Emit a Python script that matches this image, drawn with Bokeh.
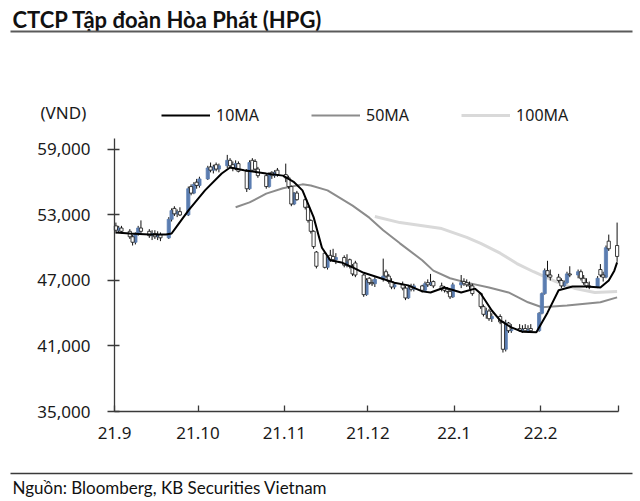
import pandas as pd
from bokeh.plotting import figure
from bokeh.models import (Range1d, FixedTicker, NumeralTickFormatter, Label, Legend,
                          LegendItem, BoxAnnotation, ColumnDataSource, LinearAxis)
from bokeh.embed import file_html
from bokeh.resources import INLINE

# ---------------- data ----------------
trade_dates = pd.bdate_range("2021-09-01", "2022-02-28")

opens = [
    52000, 51600, 51800, 51500, 51000, 50500, 51300, 51800, 51500, 51100, 51300, 51000, 51200,
    50900, 52600, 53600, 53100, 53300, 53000, 55600, 55000, 56000,
    55700, 56300, 57400, 57100, 57600, 57200, 57500, 58000, 57600, 57300, 57700, 57000, 55400,
    58000, 57900, 57200, 56600, 55600, 56900, 56600, 57100,
    56700, 56400, 55600, 54000, 55000, 54400, 53700, 52500, 51500, 49600, 49500, 48200, 49300,
    49200, 48900, 49100, 48400, 48900, 48300, 48600, 47500, 45700,
    47200, 46800, 46700, 47100, 47800, 47400, 46900, 46400, 46600, 46300, 45400, 46400, 46200,
    46500, 46100, 46800, 46600, 46900, 46500, 46300, 46200, 46000, 45500,
    46600, 46900, 46800, 46600, 46500, 45800, 44600, 43900, 44200, 43500, 43700, 43200, 40700,
    43100, 42400, 42600, 42400, 42600, 42400, 42600, 42400,
    44000, 45800, 47900, 47500, 47300, 47000, 46500, 46800, 47600, 47500, 47800, 47200, 46800,
    46500, 46400, 48000, 47500, 47300, 50600, 50200,
]
highs = [
    52300, 52000, 52000, 51700, 51200, 51400, 52000, 52500, 51700, 51600, 51600, 51500, 51400,
    52800, 53600, 53800, 53500, 53700, 55600, 55800, 56000, 56300,
    56500, 57500, 57800, 57600, 57800, 57700, 58500, 58200, 57900, 58000, 57900, 57200, 58000,
    58200, 58100, 57400, 56800, 56900, 57000, 57100, 57300,
    57700, 56600, 55700, 55100, 55200, 54600, 53800, 52600, 51600, 49700, 49600, 49300, 49800,
    49900, 49500, 49300, 49400, 49000, 48500, 48800, 47600, 47200,
    47300, 47100, 47300, 49000, 48000, 47600, 47200, 46800, 46900, 46500, 46500, 46700, 46700,
    46600, 46900, 47100, 47600, 47000, 46800, 46500, 46400, 46200, 46800,
    47500, 47200, 47100, 46900, 46700, 45900, 44800, 44500, 44400, 44000, 43900, 43300, 43400,
    43200, 43000, 43000, 42900, 43000, 42900, 43000, 44100,
    45900, 48100, 48800, 48000, 47600, 47200, 47000, 47800, 48300, 48000, 48000, 47500, 47200,
    46900, 47400, 48500, 47800, 50200, 51200, 52300,
]
lows = [
    51300, 51400, 51300, 50800, 50200, 50300, 51100, 51300, 50900, 50700, 50800, 50700, 50600,
    50800, 52400, 52900, 52800, 52900, 52900, 54800, 54900, 55400,
    55500, 56200, 56900, 56800, 57000, 56900, 57300, 57300, 57000, 57100, 56900, 55100, 55300,
    57000, 57000, 56400, 55400, 55500, 56300, 56400, 56500,
    56000, 55400, 53800, 53900, 54300, 53500, 52300, 51300, 49900, 48100, 48100, 48000, 48700,
    48700, 48500, 48200, 48200, 48100, 47400, 47300, 45500, 45600,
    46600, 46500, 46400, 46900, 47200, 46700, 46200, 46200, 46100, 45200, 45300, 46000, 46000,
    45900, 46000, 46400, 46500, 46300, 46000, 45900, 45800, 45300, 45400,
    46300, 46500, 46400, 46200, 45600, 44400, 43700, 43500, 43300, 43200, 43000, 40400, 40500,
    42200, 42200, 42300, 42200, 42300, 42200, 42300, 42300,
    43900, 45700, 47300, 47000, 46800, 46300, 46400, 46700, 47300, 47200, 47000, 46600, 46300,
    46200, 46300, 47300, 46900, 47200, 49700, 48700,
]
closes = [
    51600, 51800, 51500, 51000, 50500, 51300, 51800, 51500, 51100, 51300, 51000, 51200, 50900,
    52600, 53400, 53100, 53300, 53000, 55400, 55000, 55800, 55700,
    56300, 57300, 57100, 57400, 57200, 57500, 58000, 57500, 57300, 57700, 57000, 55400, 57800,
    57100, 57200, 56600, 55600, 56700, 56600, 56900, 56700,
    56400, 55600, 54000, 55000, 54400, 53700, 52500, 51500, 50100, 48300, 48200, 49100, 48900,
    48900, 49100, 48400, 48700, 48300, 47600, 47500, 45700, 47000,
    46800, 46700, 47100, 47400, 47400, 46900, 46400, 46600, 46300, 45400, 46300, 46200, 46500,
    46100, 46700, 46600, 46800, 46500, 46200, 46100, 46000, 45500, 46600,
    46800, 46700, 46600, 46500, 45800, 44600, 43900, 44200, 43500, 43700, 43200, 40700, 43100,
    42400, 42500, 42400, 42500, 42400, 42500, 42400, 44000,
    45800, 47900, 47500, 47300, 47000, 46500, 46800, 47600, 47500, 47800, 47200, 46800, 46500,
    46400, 47200, 47500, 47300, 50000, 49900, 49200,
]

ma10_dates = ["2021-09-01", "2021-09-06", "2021-09-13", "2021-09-19", "2021-09-21", "2021-09-23",
              "2021-09-27", "2021-10-03", "2021-10-09", "2021-10-12", "2021-10-17", "2021-10-25",
              "2021-10-31", "2021-11-04", "2021-11-07", "2021-11-11", "2021-11-14", "2021-11-17",
              "2021-11-21", "2021-11-25", "2021-11-29", "2021-12-04", "2021-12-10", "2021-12-15",
              "2021-12-20", "2021-12-23", "2021-12-28", "2022-01-03", "2022-01-08", "2022-01-10",
              "2022-01-14", "2022-01-17", "2022-01-21", "2022-01-25", "2022-01-30", "2022-02-03",
              "2022-02-07", "2022-02-12", "2022-02-17", "2022-02-22", "2022-02-25", "2022-02-27",
              "2022-02-28"]
ma10_values = [51400, 51300, 51200, 51200, 51300, 52000,
               53400, 55250, 56800, 57350, 57100, 56800,
               56600, 56000, 55250, 52800, 50000, 48850,
               48650, 48200, 47700, 47300, 46800, 46550,
               46000, 45900, 46350, 45900, 46250, 45800,
               44250, 43350, 42700, 42300, 42250, 44050,
               46100, 46450, 46450, 46350, 47000, 47900,
               48650]

ma50_dates = ["2021-10-14", "2021-10-19", "2021-10-25", "2021-10-31", "2021-11-07", "2021-11-10",
              "2021-11-16", "2021-11-25", "2021-12-01", "2021-12-06", "2021-12-12", "2021-12-20",
              "2021-12-24", "2021-12-30", "2022-01-05", "2022-01-13", "2022-01-20", "2022-01-27",
              "2022-02-01", "2022-02-10", "2022-02-22", "2022-02-28"]
ma50_values = [53700, 54150, 54950, 55450, 55800, 55700,
               55250, 53850, 52750, 51600, 50400, 48850,
               47900, 47200, 46800, 46350, 45900, 45000,
               44550, 44700, 45000, 45450]

ma100_dates = ["2021-12-03", "2021-12-12", "2021-12-27", "2022-01-05", "2022-01-10", "2022-01-17",
               "2022-01-23", "2022-01-29", "2022-02-06", "2022-02-13", "2022-02-20", "2022-02-28"]
ma100_values = [52850, 52300, 51750, 50950, 50400, 49500,
                48550, 47800, 46900, 46250, 45900, 46000]

month_starts = ["2021-09-01", "2021-10-01", "2021-11-01", "2021-12-01", "2022-01-01",
                "2022-02-01", "2022-03-01"]
month_labels = ["21.9", "21.10", "21.11", "21.12", "22.1", "22.2", ""]
y_ticks = [35000, 41000, 47000, 53000, 59000]
y_lo, y_hi = 35000, 60000

# ---------------- helpers ----------------
origin = pd.Timestamp("2021-09-01")


def day_pos(ds):
    return [(pd.Timestamp(d) - origin).days + 0.5 for d in ds]


def day_tick(ds):
    return [(pd.Timestamp(d) - origin).days for d in ds]


xs = day_pos(trade_dates)
up_idx = [i for i in range(len(xs)) if closes[i] > opens[i]]
dn_idx = [i for i in range(len(xs)) if closes[i] <= opens[i]]

src_up = ColumnDataSource(dict(
    x=[xs[i] for i in up_idx],
    top=[closes[i] for i in up_idx],
    bottom=[opens[i] for i in up_idx]))
src_dn = ColumnDataSource(dict(
    x=[xs[i] for i in dn_idx],
    top=[opens[i] for i in dn_idx],
    bottom=[closes[i] for i in dn_idx]))
src_wick = ColumnDataSource(dict(x=xs, lo=lows, hi=highs))

tick_days = day_tick(month_starts)
end_day = tick_days[-1]

# ---------------- layout geometry (pixels) ----------------
W, H = 640, 500
PL, PR, PT, PB = 114, 618, 138, 411          # plot-area edges on the canvas
kx = end_day / (PR - PL)                      # days per pixel
ky = (y_hi - y_lo) / (PB - PT)                # VND per pixel
x_start, x_end = -PL * kx, end_day + (W - PR) * kx
y_end, y_start = y_hi + PT * ky, y_lo - (H - PB) * ky

p = figure(width=W, height=H, x_range=Range1d(x_start, x_end), y_range=Range1d(y_start, y_end),
           output_backend="svg", toolbar_location=None, title=None,
           x_axis_location=None, y_axis_location=None,
           min_border=0, min_border_left=0, min_border_right=0, min_border_top=0,
           min_border_bottom=0,
           background_fill_color="white", border_fill_color="white", outline_line_color=None)
p.grid.visible = False

blue = "#5b7db1"

r50 = p.line(day_pos(ma50_dates), ma50_values, line_color="#8c8c8c", line_width=2)
r100 = p.line(day_pos(ma100_dates), ma100_values, line_color="#d9d9d9", line_width=3)

p.segment(x0="x", y0="lo", x1="x", y1="hi", source=src_wick, line_color="#111111", line_width=1)
p.vbar(x="x", top="top", bottom="bottom", width=1.15, source=src_up,
       fill_color=blue, line_color=blue, line_width=0.8)
p.vbar(x="x", top="top", bottom="bottom", width=1.15, source=src_dn,
       fill_color="white", line_color="#111111", line_width=0.8)

r10 = p.line(day_pos(ma10_dates), ma10_values, line_color="#000000", line_width=2)

# axes (placed at fixed data locations so they sit inside the full-canvas frame)
axis_col = "#3a3a3a"
yaxis = LinearAxis(fixed_location=0, bounds=(y_lo, y_hi),
                   ticker=FixedTicker(ticks=y_ticks),
                   formatter=NumeralTickFormatter(format="0,0"))
xaxis = LinearAxis(fixed_location=y_lo, bounds=(0, end_day),
                   ticker=FixedTicker(ticks=tick_days))
xaxis.major_label_overrides = {t: lab for t, lab in zip(tick_days, month_labels)}
for ax in (xaxis, yaxis):
    ax.axis_line_color = axis_col
    ax.axis_line_width = 1.3
    ax.major_tick_line_color = axis_col
    ax.major_tick_line_width = 1.3
    ax.minor_tick_line_color = None
    ax.major_label_text_font = "Noto Sans"
    ax.major_label_text_font_size = "17px"
    ax.major_label_text_color = "#1a1a1a"
yaxis.major_tick_in = 5
yaxis.major_tick_out = 7
yaxis.major_label_standoff = 17
xaxis.major_tick_in = 6
xaxis.major_tick_out = 0
xaxis.major_label_standoff = 15
p.add_layout(yaxis, "left")
p.add_layout(xaxis, "below")

# legend
legend = Legend(items=[LegendItem(label="10MA", renderers=[r10]),
                       LegendItem(label="50MA", renderers=[r50]),
                       LegendItem(label="100MA", renderers=[r100])],
                orientation="horizontal", location=(161, 374),
                glyph_width=49, glyph_height=20, label_height=20, label_standoff=6,
                spacing=52, padding=0, margin=0, border_line_color=None,
                background_fill_alpha=0,
                label_text_font="Noto Sans", label_text_font_size="16px",
                label_text_color="#1a1a1a")
p.add_layout(legend)

# texts
p.add_layout(Label(x=12, y=481, x_units="screen", y_units="screen",
                   text="CTCP Tập đoàn Hòa Phát (HPG)", text_font="Lato",
                   text_font_style="bold", text_font_size="22px", text_color="#111111",
                   text_baseline="alphabetic"))
p.add_layout(Label(x=40, y=388.5, x_units="screen", y_units="screen", text="(VND)",
                   text_font="Noto Sans", text_font_size="17px", text_color="#1a1a1a",
                   text_baseline="middle"))
p.add_layout(Label(x=12, y=13, x_units="screen", y_units="screen",
                   text="Nguồn: Bloomberg, KB Securities Vietnam", text_font="Lato",
                   text_font_size="17px", text_color="#111111", text_baseline="alphabetic"))

# horizontal rules
p.add_layout(BoxAnnotation(left=10, right=632, bottom=468, top=470,
                           left_units="screen", right_units="screen",
                           bottom_units="screen", top_units="screen",
                           fill_color="#5a5a5a", fill_alpha=1, line_color=None))
p.add_layout(BoxAnnotation(left=10, right=632, bottom=26.3, top=27.8,
                           left_units="screen", right_units="screen",
                           bottom_units="screen", top_units="screen",
                           fill_color="#3a3a3a", fill_alpha=1, line_color=None))

open("out.html", "w").write(file_html(p, INLINE))
